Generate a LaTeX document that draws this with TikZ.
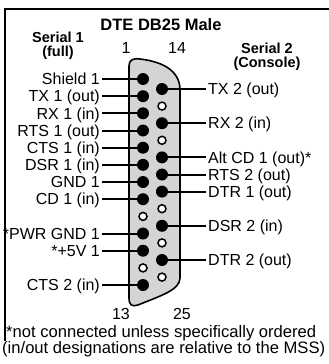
\documentclass[tikz,border=0pt]{standalone}
\usepackage{fontspec}
\setmainfont{Liberation Sans}
\usepackage{xcolor}
\definecolor{shellgray}{RGB}{212,212,212}

\begin{document}
\begin{tikzpicture}[x=1pt,y=-1pt,
  lbl/.style={inner sep=0,text height=11.5pt,text depth=0pt,font=\fontsize{16}{18}\selectfont},
  head/.style={inner sep=0,text height=10.4pt,text depth=0pt,font=\fontsize{14.5}{16}\selectfont\bfseries},
  pinon/.style={circle,fill=black,inner sep=0,minimum size=12pt},
  pinoff/.style={circle,draw=black,line width=1.5pt,fill=white,inner sep=0,minimum size=8pt},
  wire/.style={line width=2pt}]
\useasboundingbox (0,0) rectangle (329,364);
% frame
\draw[line width=2pt] (329,9) -- (5,9) -- (5,341);
% headings
\node[head,font=\fontsize{16.5}{18}\selectfont\bfseries,text height=11.9pt] (title) at (161,24.5) {DTE DB25 Male};
\node[head] (ser1) at (58,37) {Serial 1};
\node[head] (full) at (58,51) {(full)};
\node[head] (ser2) at (267,48) {Serial 2};
\node[head] (cons) at (267,62) {(Console)};
\node[lbl] (n1) at (126,48) {1};
\node[lbl] (n14) at (177,48) {14};
\node[lbl] (n13) at (121,314) {13};
\node[lbl] (n25) at (182,314) {25};
% shell
\draw[fill=shellgray,line width=1.6pt] (129,298) -- (129,66)
  .. controls (129,60) and (133,58) .. (140,59)
  .. controls (165,62) and (180,72) .. (180,90) -- (180,278)
  .. controls (180,290) and (160,296) .. (138,305)
  .. controls (132,307) and (129,305) .. (129,298) -- cycle;
% pins 1-13
\node[pinon] (p1) at (143,79) {};
\node[pinon] (p2) at (143,96.2) {};
\node[pinon] (p3) at (143,113.3) {};
\node[pinon] (p4) at (143,130.5) {};
\node[pinon] (p5) at (143,147.7) {};
\node[pinon] (p6) at (143,164.8) {};
\node[pinon] (p7) at (143,182) {};
\node[pinon] (p8) at (143,199.2) {};
\node[pinoff] (p9) at (143,216.4) {};
\node[pinon] (p10) at (143,233.5) {};
\node[pinon] (p11) at (143,250.7) {};
\node[pinoff] (p12) at (143,267.9) {};
\node[pinon] (p13) at (143,285) {};
% pins 14-25
\node[pinon] (p14) at (162,89) {};
\node[pinoff] (p15) at (162,106.1) {};
\node[pinon] (p16) at (162,123.2) {};
\node[pinoff] (p17) at (162,140.3) {};
\node[pinon] (p18) at (162,157.4) {};
\node[pinon] (p19) at (162,174.5) {};
\node[pinon] (p20) at (162,191.6) {};
\node[pinoff] (p21) at (162,208.7) {};
\node[pinon] (p22) at (162,225.8) {};
\node[pinoff] (p23) at (162,242.9) {};
\node[pinon] (p24) at (162,260) {};
\node[pinoff] (p25) at (162,277.1) {};
% serial 1 labels
\node[lbl,anchor=east] (shield1) at (100,79) {Shield 1};
\node[lbl,anchor=east] (tx1) at (100,96.2) {TX 1 (out)};
\node[lbl,anchor=east] (rx1) at (100,113.3) {RX 1 (in)};
\node[lbl,anchor=east] (rts1) at (100,130.5) {RTS 1 (out)};
\node[lbl,anchor=east] (cts1) at (100,147.7) {CTS 1 (in)};
\node[lbl,anchor=east] (dsr1) at (100,164.8) {DSR 1 (in)};
\node[lbl,anchor=east] (gnd1) at (100,182) {GND 1};
\node[lbl,anchor=east] (cd1) at (100,199.2) {CD 1 (in)};
\node[lbl,anchor=east] (pwr1) at (100,233.5) {*PWR GND 1};
\node[lbl,anchor=east] (fivev1) at (100,250.7) {*+5V 1};
\node[lbl,anchor=east] (cts2) at (100,285) {CTS 2 (in)};
% serial 2 labels
\node[lbl,anchor=west] (tx2) at (208,89) {TX 2 (out)};
\node[lbl,anchor=west] (rx2) at (208,123.2) {RX 2 (in)};
\node[lbl,anchor=west] (altcd1) at (208,157.4) {Alt CD 1 (out)*};
\node[lbl,anchor=west] (rts2) at (208,174.5) {RTS 2 (out)};
\node[lbl,anchor=west] (dtr1) at (208,191.6) {DTR 1 (out)};
\node[lbl,anchor=west] (dsr2) at (208,225.8) {DSR 2 (in)};
\node[lbl,anchor=west] (dtr2) at (208,260) {DTR 2 (out)};
% wires
\draw[wire,shorten <=2pt] (shield1.east) -- (p1.center);
\draw[wire,shorten <=2pt] (tx1.east) -- (p2.center);
\draw[wire,shorten <=2pt] (rx1.east) -- (p3.center);
\draw[wire,shorten <=2pt] (rts1.east) -- (p4.center);
\draw[wire,shorten <=2pt] (cts1.east) -- (p5.center);
\draw[wire,shorten <=2pt] (dsr1.east) -- (p6.center);
\draw[wire,shorten <=2pt] (gnd1.east) -- (p7.center);
\draw[wire,shorten <=2pt] (cd1.east) -- (p8.center);
\draw[wire,shorten <=2pt] (pwr1.east) -- (p10.center);
\draw[wire,shorten <=2pt] (fivev1.east) -- (p11.center);
\draw[wire,shorten <=2pt] (cts2.east) -- (p13.center);
\draw[wire,shorten <=2pt] (tx2.west) -- (p14.center);
\draw[wire,shorten <=2pt] (rx2.west) -- (p16.center);
\draw[wire,shorten <=2pt] (altcd1.west) -- (p18.center);
\draw[wire,shorten <=2pt] (rts2.west) -- (p19.center);
\draw[wire,shorten <=2pt] (dtr1.west) -- (p20.center);
\draw[wire,shorten <=2pt] (dsr2.west) -- (p22.center);
\draw[wire,shorten <=2pt] (dtr2.west) -- (p24.center);
% notes
\node[lbl,anchor=west,font=\fontsize{16.6}{18}\selectfont] (note1) at (6,332) {*not connected unless specifically ordered};
\node[lbl,anchor=west,font=\fontsize{16.6}{18}\selectfont] (note2) at (2,348) {(in/out designations are relative to the MSS)};
\end{tikzpicture}
\end{document}
